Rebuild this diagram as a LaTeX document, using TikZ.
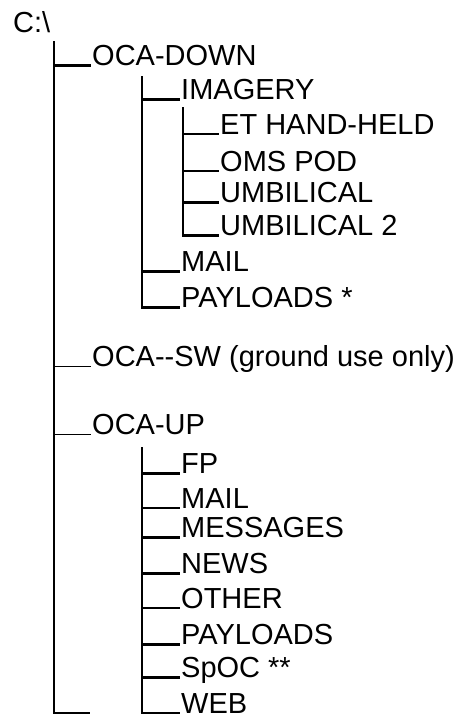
\documentclass[tikz,border=0pt]{standalone}
\usepackage{fontspec}
\setmainfont{Liberation Sans}
\begin{document}
\begin{tikzpicture}[x=1pt,y=-1pt,
  lbl/.style={anchor=base west,inner xsep=1.5pt,inner ysep=0pt,font=\fontsize{29}{34}\selectfont},
  heavy/.style={line width=2.1pt},
  light/.style={line width=1.2pt}]
\useasboundingbox (0,0) rectangle (463,717);
% texts
\node[lbl] (root) at (11.5,32.5) {C:\textbackslash};
\node[lbl] (odown) at (90.5,65.5) {OCA-DOWN};
\node[lbl] (img) at (179.5,99.5) {IMAGERY};
\node[lbl] (et) at (218.5,134) {ET HAND-HELD};
\node[lbl] (oms) at (218.5,171) {OMS POD};
\node[lbl] (umb) at (218.5,202.5) {UMBILICAL};
\node[lbl] (umbb) at (218.5,235.5) {UMBILICAL 2};
\node[lbl] (maild) at (179.5,271.5) {MAIL};
\node[lbl] (payd) at (179.5,307.5) {PAYLOADS *};
\node[lbl] (osw) at (90.5,366.5) {OCA-\kern0pt-SW (ground use only)};
\node[lbl] (oup) at (90.5,434.5) {OCA-UP};
\node[lbl] (fp) at (179.5,473.5) {FP};
\node[lbl] (mailu) at (179.5,508) {MAIL};
\node[lbl] (msg) at (179.5,537.5) {MESSAGES};
\node[lbl] (news) at (179.5,573.5) {NEWS};
\node[lbl] (other) at (179.5,608) {OTHER};
\node[lbl] (payu) at (179.5,644.5) {PAYLOADS};
\node[lbl] (spoc) at (179.5,677.5) {SpOC **};
\node[lbl] (web) at (179.5,713) {WEB};
% trunk tops and free end
\coordinate (t1) at (54,41.5);
\coordinate (t2) at (142.3,76);
\coordinate (t3) at (183,107);
\coordinate (t4) at (142.3,447);
\coordinate (endstub) at (90,713);
% verticals with last stub
\draw[heavy] (t1) |- (endstub);
\draw[heavy] (t2) |- (payd.base west);
\draw[heavy] (t3) |- (umbb.base west);
\draw[heavy] (t4) |- (web.base west);
% level 1 stubs
\draw[heavy] (t1 |- odown.base) -- (odown.base west);
\draw[light] (t1 |- osw.base) -- (osw.base west);
\draw[light] (t1 |- oup.base) -- (oup.base west);
% level 2 stubs (OCA-DOWN)
\draw[heavy] (t2 |- img.base) -- (img.base west);
\draw[heavy] (t2 |- maild.base) -- (maild.base west);
% level 3 stubs
\draw[heavy] (t3 |- et.base) -- (et.base west);
\draw[heavy] (t3 |- oms.base) -- (oms.base west);
\draw[heavy] (t3 |- umb.base) -- (umb.base west);
% level 2 stubs (OCA-UP)
\draw[heavy] (t4 |- fp.base) -- (fp.base west);
\draw[heavy] (t4 |- mailu.base) -- (mailu.base west);
\draw[heavy] (t4 |- msg.base) -- (msg.base west);
\draw[heavy] (t4 |- news.base) -- (news.base west);
\draw[heavy] (t4 |- other.base) -- (other.base west);
\draw[heavy] (t4 |- payu.base) -- (payu.base west);
\draw[heavy] (t4 |- spoc.base) -- (spoc.base west);
\end{tikzpicture}
\end{document}
